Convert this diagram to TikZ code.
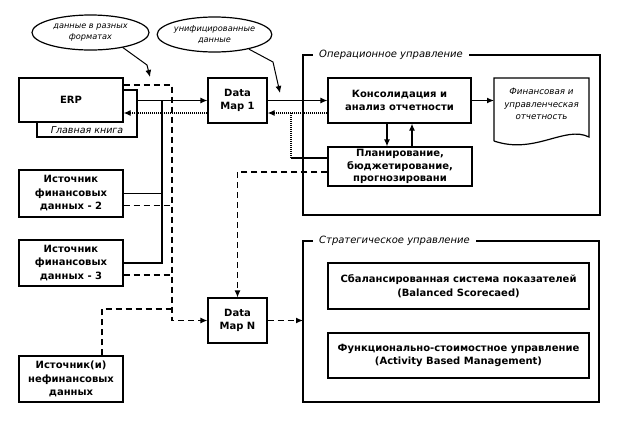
\documentclass[tikz,border=0pt]{standalone}
\usepackage{fontspec}
\setmainfont{DejaVu Sans}
\usetikzlibrary{shapes.geometric,arrows.meta}
\begin{document}
\begin{tikzpicture}[x=1pt,y=-1pt,
  ln/.style={line width=1.2pt},
  box/.style={ln,draw,fill=white,inner sep=0pt,align=center,font=\bfseries\fontsize{10}{13.5}\selectfont},
  itl/.style={font=\itshape\fontsize{8.7}{12.5}\selectfont,align=center},
  grp/.style={ln,draw},
  glabel/.style={fill=white,inner xsep=6pt,inner ysep=1pt,anchor=west,font=\itshape\fontsize{10}{12}\selectfont},
  cloud/.style={ellipse,ln,draw,fill=white,inner sep=0pt,align=center,font=\itshape\fontsize{8.2}{11}\selectfont},
  arr/.style={ln,-{Latex[length=7pt,width=6pt]}},
  dsh/.style={ln,dash pattern=on 6pt off 4pt},
  dsharr/.style={dsh,-{Latex[length=7pt,width=6pt]}},
  dot/.style={ln,dash pattern=on 1pt off 1pt},
  dotarr/.style={dot,-{Latex[length=7pt,width=6pt]}}
]
\useasboundingbox (0,0) rectangle (620,421);

% coordinates for free ends and bends
\coordinate (ya) at (0,85);
\coordinate (yb) at (0,113);
\coordinate (k1) at (147,65);
\coordinate (a1) at (150,77);
\coordinate (k2) at (273,62);
\coordinate (a2) at (280,93);
\coordinate (bus) at (162,100);
\coordinate (dbus) at (172,0);
\coordinate (nfx) at (102,0);
\coordinate (nfy) at (0,309);
\coordinate (px) at (291,0);
\coordinate (py) at (0,158);
\coordinate (pd) at (0,172);
\coordinate (x1) at (387,0);
\coordinate (x2) at (412,0);
\coordinate (docw) at (494,100.5);
\coordinate (stw) at (303,320.5);

% group frames
\draw[grp] (303,55) rectangle (600,215);
\node[glabel] (opl) at (313,55) {Операционное управление};
\draw[grp] (303,241) rectangle (599,402);
\node[glabel] (stl) at (313,241) {Стратегическое управление};

% clouds
\node[cloud,minimum width=117pt,minimum height=35pt] (e1) at (90.5,32.5) {данные в разных\\форматах};
\node[cloud,minimum width=105pt,minimum height=35pt] (e2) at (214.5,34.5) {унифицированные\\данные};

% left sources
\node[box,minimum width=100pt,minimum height=47pt] (gl) at (87,113.5) {};
\node[itl,font=\itshape\fontsize{9.5}{11}\selectfont] (glt) at (87,130) {Главная книга};
\node[box,minimum width=104pt,minimum height=44pt] (erp) at (71,100) {ERP};
\node[box,minimum width=104pt,minimum height=47pt] (s2) at (71,193.5) {Источник\\финансовых\\данных - 2};
\node[box,minimum width=104pt,minimum height=46pt] (s3) at (71,263) {Источник\\финансовых\\данных - 3};
\node[box,minimum width=104pt,minimum height=46pt] (nf) at (71,379) {Источник(и)\\нефинансовых\\данных};

% data maps
\node[box,minimum width=59pt,minimum height=45pt] (dm1) at (237.5,100.5) {Data\\Map 1};
\node[box,minimum width=59pt,minimum height=45pt] (dmn) at (237.5,320.5) {Data\\Map N};

% operational
\node[box,minimum width=143pt,minimum height=45pt] (cons) at (399.5,100.5) {Консолидация и\\анализ отчетности};
\node[box,minimum width=144pt,minimum height=39pt,font=\bfseries\fontsize{10}{12.5}\selectfont] (plan) at (400,166.5) {Планирование,\\бюджетирование,\\прогнозировани};
\draw[ln,fill=white] (494,141) -- (494,78) -- (589,78) -- (589,137)
   .. controls (565,125) and (535,155) .. (494,141);
\node[itl] (doc) at (541.5,104) {Финансовая и\\управленческая\\отчетность};

% strategic
\node[box,minimum width=261pt,minimum height=46pt] (bsc) at (458.5,286) {Сбалансированная система показателей\\(Balanced Scorecaed)};
\node[box,minimum width=261pt,minimum height=45pt] (abm) at (458.5,355.5) {Функционально-стоимостное управление\\(Activity Based Management)};

% cloud pointers
\draw[arr,line width=1pt] (e1.-25) -- (k1) -- (a1);
\draw[arr,line width=1pt] (e2.-23) -- (k2) -- (a2);

% solid bus
\draw[arr] (gl.east |- dm1.west) -- (dm1.west);
\draw[ln] (s3.east) -| (bus);
\draw[ln] (s2.east) -- (s2.east -| bus);

% dotted return to ERP
\draw[dotarr] (dm1.west |- yb) -- (erp.east |- yb);

% dashed bus
\draw[dsharr] (erp.east |- ya) -| (dbus |- dmn.west) -- (dmn.west);
\draw[dsh] ([yshift=-12pt]s2.east) -- ([yshift=-12pt]s2.east -| dbus);
\draw[dsh] ([yshift=-12pt]s3.east) -- ([yshift=-12pt]s3.east -| dbus);
\draw[dsh] (nf.north -| nfx) |- (nfy -| dbus);

% data map 1 <-> consolidation
\draw[arr] (dm1.east) -- (cons.west);
\draw[dotarr] (cons.west |- yb) -- (dm1.east |- yb);
\draw[dot] (px |- yb) -- (px |- py);
\draw[ln] (px |- py) -- (plan.west |- py);
\draw[dsharr] (plan.west |- pd) -| (dmn.north);

% consolidation <-> planning
\draw[arr] (cons.south -| x1) -- (plan.north -| x1);
\draw[arr] (plan.north -| x2) -- (cons.south -| x2);
\draw[arr] (cons.east) -- (docw);

% to strategic
\draw[dsharr] (dmn.east) -- (stw);
\end{tikzpicture}
\end{document}
